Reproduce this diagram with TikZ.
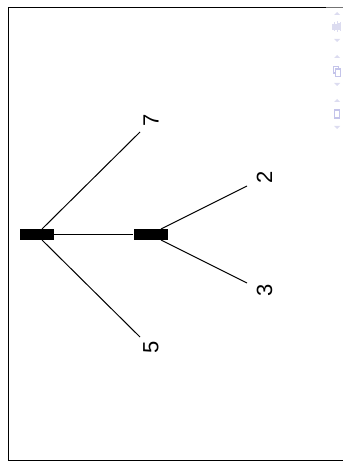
\documentclass[tikz,border=0pt]{standalone}
\usepackage{fontspec}
\setmainfont{Liberation Sans}
\definecolor{iconc}{HTML}{C4C4EA}
\definecolor{iconf}{HTML}{DCDCF0}
\tikzset{
  bar/.style={fill=black,draw=none,minimum width=25.5pt,minimum height=8.25pt,inner sep=0pt},
  num/.style={font=\fontsize{16.5}{18}\selectfont,rotate=90,inner sep=0pt},
  link/.style={draw=black,line width=0.75pt},
  icon/.style={draw=iconc,line width=0.8pt,fill=white},
  tri/.style={fill=iconf,draw=none}
}
\begin{document}
\begin{tikzpicture}[x=0.75pt,y=-0.75pt]
\useasboundingbox (0,0) rectangle (343,466);
\draw[black,line width=0.75pt] (326,7.5) -- (8.5,7.5) -- (8.5,460.5) -- (343,460.5);
\draw[black!55,line width=0.75pt] (326,7.5) -- (343,7.5);
\node[bar] (a) at (37,234.5) {};
\node[bar] (b) at (150.5,234.5) {};
\coordinate (a7) at (42,229);
\coordinate (a5) at (42,240);
\coordinate (b2) at (161,229);
\coordinate (b3) at (161,240);
\coordinate (e7) at (140,132);
\coordinate (e5) at (140,337);
\coordinate (e2) at (247,186);
\coordinate (e3) at (247,283);
\node[num] (n7) at (151,120.5) {7};
\node[num] (n5) at (151,347) {5};
\node[num] (n2) at (264.5,177.5) {2};
\node[num] (n3) at (264.5,290) {3};
\draw[link] (a) -- (b);
\draw[link] (a7) -- (e7);
\draw[link] (a5) -- (e5);
\draw[link] (b2) -- (e2);
\draw[link] (b3) -- (e3);
% toolbar
\foreach \y in {15,58,102} \fill[tri] (337,\y-3) -- (340,\y) -- (334,\y) -- cycle;
\foreach \y in {39,83,126} \fill[tri] (337,\y+3) -- (340,\y) -- (334,\y) -- cycle;
\foreach \x/\h in {333/6,334.5/9,336/6,337.5/11,339/7,340.5/9}
  \draw[iconf,line width=1pt] (\x,27-\h/2) -- (\x,27+\h/2);
\draw[icon] (333.5,66.5) rectangle (338.5,73);
\draw[icon] (335.5,69) rectangle (340.5,76.5);
\draw[icon] (334.5,110) rectangle (339.5,118);
\end{tikzpicture}
\end{document}
